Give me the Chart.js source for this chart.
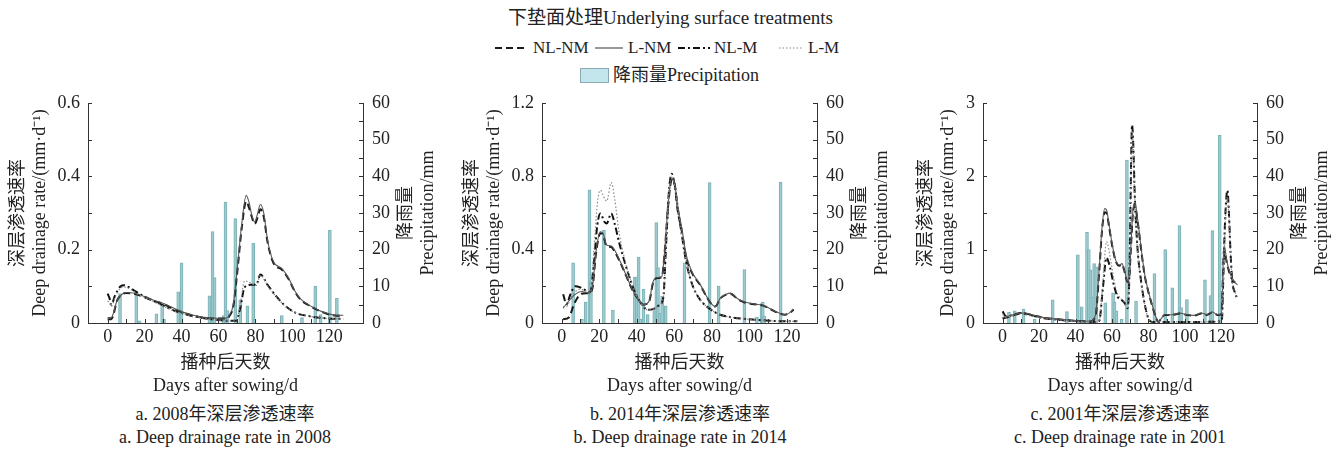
<!DOCTYPE html>
<html>
<head>
<meta charset="utf-8">
<script src="https://cdn.jsdelivr.net/npm/chart.js@4.4.1/dist/chart.umd.min.js"></script>
<style>
  html,body{margin:0;padding:0;background:#fff;}
  body{width:1341px;height:452px;position:relative;overflow:hidden;
       font-family:"Liberation Serif","Times New Roman","Noto Sans CJK SC",serif;color:#222;}
  canvas{position:absolute;top:79px;}
  .t{position:absolute;white-space:nowrap;font-size:18px;line-height:22px;}
  .lg{font-size:17px;}
  .cap{position:absolute;width:400px;text-align:center;font-size:18px;line-height:23px;top:403px;}
  svg{position:absolute;}
</style>
</head>
<body>
<div class="t" style="left:0;width:1341px;text-align:center;top:7px;font-size:19px;">下垫面处理Underlying surface treatments</div>

<svg style="left:495px;top:43px" width="32" height="10"><line x1="0" y1="5" x2="32" y2="5" stroke="#1a1a1a" stroke-width="2" stroke-dasharray="7,4"/></svg>
<div class="t lg" style="left:533px;top:37px;">NL-NM</div>
<svg style="left:595px;top:43px" width="28" height="10"><line x1="0" y1="5" x2="28" y2="5" stroke="#555" stroke-width="1.2"/></svg>
<div class="t lg" style="left:628px;top:37px;">L-NM</div>
<svg style="left:678px;top:43px" width="32" height="10"><line x1="0" y1="5" x2="32" y2="5" stroke="#111" stroke-width="2" stroke-dasharray="7,3,2,3"/></svg>
<div class="t lg" style="left:714px;top:37px;">NL-M</div>
<svg style="left:779px;top:43px" width="24" height="10"><line x1="0" y1="5" x2="24" y2="5" stroke="#888" stroke-width="1.2" stroke-dasharray="1.5,2"/></svg>
<div class="t lg" style="left:808px;top:37px;">L-M</div>

<div style="position:absolute;left:580px;top:68px;width:27px;height:13px;background:#c3e6ec;border:1px solid #8aa9b0;"></div>
<div class="t" style="left:613px;top:64px;">降雨量Precipitation</div>

<canvas id="c1" width="447" height="321" style="left:0px"></canvas>
<canvas id="c2" width="447" height="321" style="left:447px"></canvas>
<canvas id="c3" width="447" height="321" style="left:894px"></canvas>

<div class="cap" style="left:25px;">a. 2008年深层渗透速率<br>a. Deep drainage rate in 2008</div>
<div class="cap" style="left:480px;">b. 2014年深层渗透速率<br>b. Deep drainage rate in 2014</div>
<div class="cap" style="left:920px;">c. 2001年深层渗透速率<br>c. Deep drainage rate in 2001</div>

<script>
// ---------- tick labels ----------
const xTicks = [0, 20, 40, 60, 80, 100, 120];
const yTicks08 = [0, 0.2, 0.4, 0.6];
const yTicks14 = [0, 0.4, 0.8, 1.2];
const yTicks01 = [0, 1, 2, 3];
const precipTicks = [0, 10, 20, 30, 40, 50, 60];

// ---------- 2008 ----------
const daysB08 = [0,2,3,5,7,10,14,20,25,30,35,40,45,50,55,60,64,66,68,70,72.6,75,76.5,78,79.6,81,82.7,84.5,86.6,89.7,94.4,98.2,101.3,104.4,110,116,124,127.6];
const nlnm08 = [0.01,0.01,0.02,0.06,0.075,0.082,0.08,0.07,0.06,0.052,0.04,0.03,0.022,0.016,0.013,0.012,0.012,0.02,0.045,0.13,0.26,0.332,0.315,0.29,0.27,0.285,0.31,0.29,0.22,0.164,0.145,0.118,0.086,0.064,0.045,0.03,0.02,0.02];
const lnm08 = [0.015,0.015,0.025,0.06,0.075,0.083,0.082,0.072,0.062,0.054,0.042,0.031,0.023,0.017,0.014,0.013,0.013,0.022,0.05,0.14,0.27,0.348,0.33,0.295,0.276,0.295,0.323,0.3,0.225,0.168,0.148,0.12,0.088,0.066,0.046,0.031,0.021,0.021];
const daysA08 = [0,1,2,4,7,9,12,16,20,25,30,35,40,45,50,55,60,65,69.5,71.8,74.1,77.3,80.4,82.7,86.6,91.2,95.9,102.1,109.9,117.6,127.6];
const nlm08 = [0.08,0.068,0.05,0.075,0.1,0.103,0.096,0.083,0.072,0.06,0.048,0.036,0.027,0.02,0.015,0.011,0.008,0.006,0.006,0.041,0.097,0.104,0.104,0.132,0.104,0.073,0.048,0.027,0.018,0.013,0.011];
const lm08 = [0.06,0.055,0.045,0.07,0.095,0.098,0.093,0.08,0.07,0.058,0.046,0.035,0.026,0.019,0.014,0.011,0.008,0.006,0.006,0.05,0.115,0.11,0.102,0.13,0.102,0.072,0.047,0.027,0.018,0.013,0.011];
const rainDays08 = [6.7,15.5,17.3,26.4,29.5,30.5,38.2,40,55.1,56.8,57.9,62.8,63.8,64.9,69.1,71.8,75.7,78.8,79.5,94.3,105.2,112.4,115.3,120.3,124.1];
const rain08 = [8,8.8,0.6,2.5,5.1,1,8.5,16.4,7.4,24.9,12.4,2,33,3.4,28.5,6.3,4.7,21.7,1,2,1.5,10.1,2.3,25.3,6.7];

// ---------- 2014 ----------
const daysB14 = [0.8,3.8,6.9,10.7,14.5,16.3,18.3,20.6,22.1,23.9,26.4,28.2,31.2,34.3,37.3,40.4,43.4,46.5,48.7,51,53.3,54.8,56.8,58.6,60.2,61.7,64,66.3,69.3,73.9,77.7,79.9,81.8,84.5,87.6,89.9,93.7,97.5,102.8,107.4,112,115.8,118.8,121.1,123.5];
const lnm14 = [0.081,0.12,0.154,0.172,0.163,0.19,0.389,0.498,0.489,0.425,0.42,0.398,0.335,0.262,0.19,0.136,0.1,0.118,0.226,0.248,0.253,0.389,0.66,0.787,0.76,0.643,0.516,0.371,0.281,0.208,0.136,0.103,0.09,0.136,0.157,0.163,0.132,0.114,0.103,0.096,0.072,0.054,0.045,0.054,0.075];
const nlnm14 = [0.02,0.03,0.11,0.16,0.163,0.185,0.38,0.49,0.48,0.42,0.415,0.39,0.33,0.258,0.188,0.135,0.1,0.115,0.22,0.245,0.25,0.38,0.65,0.78,0.755,0.62,0.5,0.36,0.275,0.205,0.134,0.102,0.09,0.134,0.155,0.16,0.13,0.112,0.102,0.095,0.071,0.053,0.045,0.053,0.073];
const daysA14 = [0.8,2.6,4.6,7.2,9.9,12.9,15.2,17.2,19,20.6,22.8,24,26.4,28.2,30.5,33.5,36.6,39.6,42.6,45.7,48.7,51.8,54.1,55.6,57.1,58.6,60.2,62,64,66.3,69.3,73.1,78.4,84.5,90.6,99.8,108.9,118,125.5];
const nlm14 = [0.157,0.103,0.154,0.2,0.194,0.177,0.168,0.335,0.534,0.597,0.552,0.543,0.597,0.543,0.443,0.335,0.235,0.154,0.103,0.072,0.076,0.096,0.136,0.425,0.715,0.814,0.751,0.615,0.48,0.335,0.217,0.136,0.081,0.045,0.031,0.02,0.014,0.009,0.009];
const lm14 = [0.09,0.09,0.13,0.17,0.185,0.175,0.168,0.4,0.65,0.724,0.68,0.665,0.766,0.68,0.5,0.35,0.24,0.155,0.103,0.072,0.076,0.096,0.136,0.425,0.715,0.8,0.745,0.61,0.48,0.335,0.217,0.136,0.081,0.045,0.031,0.02,0.014,0.009,0.009];
const rainDays14 = [6.1,10.8,12.8,14.8,15.6,22.5,27.3,39,40,41,42,43.6,45.8,49.3,50.4,51.3,52.4,53.5,55.4,65.4,78.8,83.6,97.3,104,106.4,107.1,107.8,116.6];
const rain14 = [16.4,1,5.7,36.3,11.3,25.3,3.5,12.5,12.5,18,1,9.2,2.3,3.4,27.4,15.1,2.7,7.3,4.7,16.4,38.3,10.1,14.6,1.6,5.3,5.7,1.8,38.4];

// ---------- 2001 ----------
const daysB01 = [0,3,8,12,16,22,30,40,48,51,53,54.5,56,57,58.5,60,62,64,65.5,67,68.5,69.5,70.5,71.5,72.5,74,76,78,80,82,84,85.5,87,89,93,97,101,105,109,112,115,118,120,121.5,123,125,127,128.8];
const lnm01 = [0.077,0.09,0.127,0.136,0.113,0.077,0.054,0.032,0.023,0.113,0.747,1.29,1.56,1.54,1.33,1.09,0.86,0.79,0.81,0.7,0.566,0.656,1.11,1.54,1.65,1.43,1.02,0.656,0.43,0.25,0.09,0.014,0.06,0.113,0.113,0.136,0.113,0.104,0.136,0.113,0.149,0.113,0.122,1.06,0.84,0.66,0.566,0.52];
const nlnm01 = [0.06,0.08,0.12,0.13,0.11,0.075,0.052,0.03,0.022,0.1,0.7,1.25,1.51,1.5,1.3,1.07,0.85,0.78,0.8,0.69,0.56,0.64,1.08,1.5,1.6,1.4,1.0,0.64,0.42,0.24,0.085,0.014,0.06,0.11,0.11,0.13,0.11,0.1,0.13,0.11,0.145,0.11,0.12,1.0,0.82,0.64,0.56,0.55];
const daysA01 = [0,2,6,10,15,20,25,30,40,50,53,55,57,59,61,63,65,67,68.5,69.5,70.5,71,71.7,72.5,74,76,78,80,82,90,100,110,119,120.3,121,122,123.3,124.2,125,126,127.5,128.8];
const nlm01 = [0.158,0.09,0.113,0.136,0.113,0.077,0.059,0.045,0.027,0.014,0.03,0.475,0.89,0.75,0.52,0.36,0.32,0.27,0.2,0.61,2.19,2.7,2.42,1.74,1.02,0.566,0.25,0.06,0.014,0.015,0.015,0.015,0.02,0.05,0.57,1.38,1.81,1.47,0.97,0.566,0.41,0.33];
const lm01 = [0.12,0.08,0.1,0.12,0.1,0.07,0.055,0.042,0.025,0.013,0.03,0.55,1.11,0.9,0.6,0.4,0.33,0.28,0.21,0.6,2.1,2.62,2.38,1.7,1.0,0.55,0.24,0.06,0.014,0.015,0.015,0.015,0.02,0.05,0.55,1.3,1.72,1.42,0.95,0.55,0.42,0.35];
const rainDays01 = [3.5,6.7,11.5,17.6,27.5,35.3,41.3,43.4,46.3,47.3,48.2,49.2,50.2,51.3,56.3,60.6,61.4,62.5,65.3,68.2,73.2,83.3,89.2,93.1,97,97.9,101.1,111,114,115.1,119.1];
const rain01 = [2.9,3.3,3.8,1,6.3,3.1,18.6,4.4,24.7,20,14.5,7.1,16.2,15.3,5.5,8.2,5.8,3.3,1,44.4,6,13.5,20,9.6,26.6,4.2,6.4,11.8,7.5,25.2,51.2];

// ---------- rendering ----------
const FONT = '"Liberation Serif","Times New Roman","Noto Sans CJK SC",serif';
Chart.defaults.font.family = FONT;
Chart.defaults.font.size = 18;
Chart.defaults.color = '#222';

const pts = (xs, ys) => xs.map((x, i) => ({x: x, y: ys[i]}));

const inTicks = {
  id: 'inTicks',
  afterDraw(chart, args, o) {
    const ctx = chart.ctx, a = chart.chartArea;
    const xs = chart.scales.x, yl = chart.scales.yL, yr = chart.scales.yR;
    ctx.save();
    ctx.strokeStyle = '#333';
    ctx.lineWidth = 1;
    ctx.beginPath();
    for (let v = 0; v <= xs.max; v += 10) {
      const p = Math.round(xs.getPixelForValue(v)) + 0.5;
      ctx.moveTo(p, a.bottom); ctx.lineTo(p, a.bottom - 4);
    }
    for (let v = 0; v <= yl.max + 1e-9; v += o.yMinor) {
      const p = Math.round(yl.getPixelForValue(v)) + 0.5;
      ctx.moveTo(a.left, p); ctx.lineTo(a.left + 4, p);
    }
    for (let v = 0; v <= 60; v += 5) {
      const p = Math.round(yr.getPixelForValue(v)) + 0.5;
      ctx.moveTo(a.right, p); ctx.lineTo(a.right - 4, p);
    }
    ctx.stroke();
    // right axis title (reads bottom to top)
    const mid = (a.top + a.bottom) / 2;
    ctx.fillStyle = '#222';
    ctx.font = '18px ' + FONT;
    ctx.textAlign = 'center';
    ctx.textBaseline = 'middle';
    [['降雨量', 43], ['Precipitation/mm', 65]].forEach(([t, dx]) => {
      ctx.save();
      ctx.translate(a.right + dx, mid);
      ctx.rotate(-Math.PI / 2);
      ctx.fillText(t, 0, 0);
      ctx.restore();
    });
    ctx.restore();
  }
};

function makeChart(id, s) {
  const lineDs = (label, xs, ys, color, width, dash) => ({
    type: 'line', label: label, data: pts(xs, ys), yAxisID: 'yL',
    borderColor: color, borderWidth: width, borderDash: dash,
    pointRadius: 0, cubicInterpolationMode: 'monotone', fill: false, order: 1
  });
  return new Chart(document.getElementById(id), {
    type: 'line',
    data: {
      datasets: [
        lineDs('L-M', s.daysA, s.lm, '#888', 1.2, [1.5, 2]),
        lineDs('L-NM', s.daysB, s.lnm, '#555', 1.1, []),
        lineDs('NL-NM', s.daysB, s.nlnm, '#1a1a1a', 2, [7, 4]),
        lineDs('NL-M', s.daysA, s.nlm, '#111', 2, [7, 3, 2, 3]),
        {
          type: 'bar', label: '降雨量Precipitation', data: pts(s.rainDays, s.rain),
          yAxisID: 'yR', backgroundColor: '#9ccbcf', borderColor: '#7db2b6',
          borderWidth: 1, barThickness: 3, order: 10
        }
      ]
    },
    options: {
      responsive: false, animation: false,
      layout: {padding: {top: 24, left: 0, right: 0, bottom: 0}},
      plugins: {legend: {display: false}, tooltip: {enabled: false}, inTicks: {yMinor: s.yMinor}},
      scales: {
        x: {
          type: 'linear', min: 0, max: s.xMax,
          grid: {display: false, drawTicks: false},
          border: {display: true, color: '#333', width: 1},
          ticks: {padding: 3, maxRotation: 0, autoSkip: false},
          afterBuildTicks: sc => { sc.ticks = xTicks.map(v => ({value: v})); },
          afterFit: sc => { sc.height = 77; },
          title: {display: true, text: ['播种后天数', 'Days after sowing/d'],
                  font: {size: 18, lineHeight: '23px'}, padding: {top: 0, bottom: 2}}
        },
        yL: {
          type: 'linear', position: 'left', min: 0, max: s.yMax,
          grid: {display: false, drawTicks: false},
          border: {display: true, color: '#333', width: 1},
          ticks: {padding: 8},
          afterBuildTicks: sc => { sc.ticks = s.yTicks.map(v => ({value: v})); },
          afterFit: sc => { sc.width = s.leftW; },
          title: {display: true, text: ['深层渗透速率', 'Deep drainage rate/(mm·d⁻¹)'],
                  font: {size: 18, lineHeight: '22px'}, padding: {top: s.titlePad, bottom: 0}}
        },
        yR: {
          type: 'linear', position: 'right', min: 0, max: 60,
          grid: {display: false, drawTicks: false},
          border: {display: true, color: '#333', width: 1},
          ticks: {padding: 9},
          afterBuildTicks: sc => { sc.ticks = precipTicks.map(v => ({value: v})); },
          afterFit: sc => { sc.width = s.rightW; }
        }
      }
    },
    plugins: [inTicks]
  });
}

makeChart('c1', {daysA: daysA08, daysB: daysB08, nlnm: nlnm08, lnm: lnm08, nlm: nlm08, lm: lm08,
  rainDays: rainDays08, rain: rain08, xMax: 127.6, yMax: 0.6, yTicks: yTicks08, yMinor: 0.1,
  leftW: 88, rightW: 84, titlePad: 7});
makeChart('c2', {daysA: daysA14, daysB: daysB14, nlnm: nlnm14, lnm: lnm14, nlm: nlm14, lm: lm14,
  rainDays: rainDays14, rain: rain14, xMax: 125.5, yMax: 1.2, yTicks: yTicks14, yMinor: 0.2,
  leftW: 95, rightW: 77, titlePad: 14});
makeChart('c3', {daysA: daysA01, daysB: daysB01, nlnm: nlnm01, lnm: lnm01, nlm: nlm01, lm: lm01,
  rainDays: rainDays01, rain: rain01, xMax: 128.8, yMax: 3, yTicks: yTicks01, yMinor: 0.5,
  leftW: 89, rightW: 84, titlePad: 21});
</script>
</body>
</html>
